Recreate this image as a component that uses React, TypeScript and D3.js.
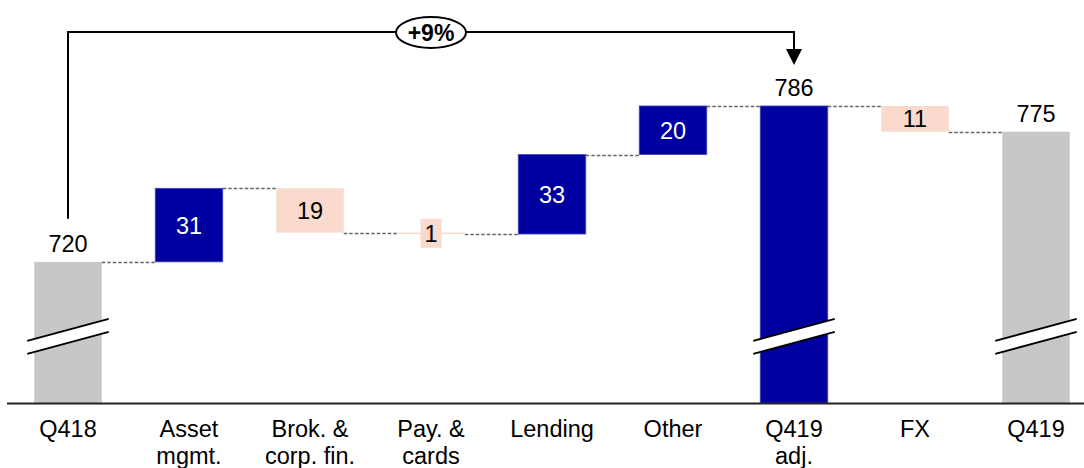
import React from "react";
import * as d3 from "d3";

// ---- data ----
const categoryLines: string[][] = [
  ["Q418"],
  ["Asset", "mgmt."],
  ["Brok. &", "corp. fin."],
  ["Pay. &", "cards"],
  ["Lending"],
  ["Other"],
  ["Q419", "adj."],
  ["FX"],
  ["Q419"],
];
const categories = categoryLines.map((l) => l.join(" "));
const kinds = ["total", "delta", "delta", "delta", "delta", "delta", "subtotal", "delta", "total"];
const values = [720.3, 30.9, -18.6, -0.6, 33.4, 20.4, 785.8, -10.8, 775.0];
const axisMin = 661;
const axisMax = 786;
const breakValue = 689;
const growthFrom = "Q418";
const growthTo = "Q419 adj.";
const growthLabel = "+9%";

const W = 1084;
const H = 468;
const FONT = "'Liberation Sans', Arial, Helvetica, sans-serif";
const BLUE = "#0000A0";
const GRAY = "#C8C7C8";
const PINK = "#F9DACC";

export default function App() {
  const x = d3
    .scaleBand<string>()
    .domain(categories)
    .range([7.5, 7.5 + 121 * categories.length])
    .paddingInner(0.442)
    .paddingOuter(0.221);
  const y = d3.scaleLinear().domain([axisMin, axisMax]).range([403, 105.5]);

  let running = 0;
  const bars = values.map((v, i) => {
    let lo: number, hi: number, end: number;
    if (kinds[i] === "delta") {
      lo = Math.min(running, running + v);
      hi = Math.max(running, running + v);
      end = running + v;
    } else {
      lo = axisMin;
      hi = v;
      end = v;
    }
    running = end;
    const fill =
      kinds[i] === "total" ? GRAY : kinds[i] === "subtotal" ? BLUE : v >= 0 ? BLUE : PINK;
    return { cat: categories[i], v, lo, hi, end, kind: kinds[i], fill, i };
  });

  const bw = x.bandwidth();
  const fs = 23.5;

  const fromX = (x(growthFrom) as number) + bw / 2;
  const toX = (x(growthTo) as number) + bw / 2;
  const fromBar = bars.find((b) => b.cat === growthFrom)!;
  const toBar = bars.find((b) => b.cat === growthTo)!;
  const lineY = 32;
  const fromBottom = y(fromBar.hi) - 43;
  const arrowTip = y(toBar.hi) - 41;

  return (
    <svg
      width={W}
      height={H}
      style={{ position: "absolute", left: 0, top: 0, background: "#fff" }}
      fontFamily={FONT}
    >
      {/* connectors */}
      {bars.slice(0, -1).map((b, i) => {
        const x1 = (x(b.cat) as number) + bw;
        const x2 = x(bars[i + 1].cat) as number;
        const yy = Math.round(y(b.end)) + 0.5;
        return (
          <line
            key={"c" + i}
            x1={x1}
            x2={x2}
            y1={yy}
            y2={yy}
            stroke="#666"
            strokeWidth={1.3}
            strokeDasharray="3.5,2"
          />
        );
      })}

      {/* bars */}
      {bars.map((b) => {
        const x0 = x(b.cat) as number;
        const top = y(b.hi);
        const bot = y(b.lo);
        return (
          <rect
            key={"b" + b.i}
            x={x0}
            y={top}
            width={bw}
            height={Math.max(1.5, bot - top)}
            fill={b.fill}
            stroke={b.fill === BLUE ? "#4646c4" : "none"}
            strokeWidth={b.fill === BLUE ? 0.8 : 0}
          />
        );
      })}

      {/* axis breaks */}
      {bars
        .filter((b) => b.kind !== "delta")
        .map((b) => {
          const xl = (x(b.cat) as number) - 7;
          const xr = (x(b.cat) as number) + bw + 7;
          const yc = y(breakValue);
          const half = 11;
          const gap = 6.5;
          const pts = [
            [xl, yc + half - gap],
            [xr, yc - half - gap],
            [xr, yc - half + gap],
            [xl, yc + half + gap],
          ];
          return (
            <g key={"br" + b.i}>
              <polygon points={pts.map((p) => p.join(",")).join(" ")} fill="#fff" />
              <line x1={pts[0][0]} y1={pts[0][1]} x2={pts[1][0]} y2={pts[1][1]} stroke="#000" strokeWidth={2} />
              <line x1={pts[3][0]} y1={pts[3][1]} x2={pts[2][0]} y2={pts[2][1]} stroke="#000" strokeWidth={2} />
            </g>
          );
        })}

      {/* value labels */}
      {bars.map((b) => {
        const cx = (x(b.cat) as number) + bw / 2;
        const label = String(Math.round(Math.abs(b.v)));
        if (b.kind !== "delta") {
          return (
            <text key={"l" + b.i} x={cx} y={y(b.hi) - 9.5} textAnchor="middle" fontSize={fs} fill="#000">
              {label}
            </text>
          );
        }
        const top = y(b.hi);
        const bot = y(b.lo);
        const cy = (top + bot) / 2;
        const small = bot - top < 10;
        return (
          <g key={"l" + b.i}>
            {small && <rect x={cx - 10.5} y={cy - 14.5} width={21} height={29} fill={b.fill} />}
            <text
              x={cx}
              y={cy}
              dy="0.36em"
              textAnchor="middle"
              fontSize={fs}
              fill={b.fill === BLUE ? "#fff" : "#000"}
            >
              {label}
            </text>
          </g>
        );
      })}

      {/* x axis */}
      <line x1={7} x2={W} y1={403.5} y2={403.5} stroke="#222" strokeWidth={2} />
      {categoryLines.map((lines, i) => {
        const cx = (x(categories[i]) as number) + bw / 2;
        return (
          <text key={"x" + i} x={cx} y={437} textAnchor="middle" fontSize={fs} fill="#000">
            {lines.map((t, j) => (
              <tspan key={j} x={cx} dy={j === 0 ? 0 : 27}>
                {t}
              </tspan>
            ))}
          </text>
        );
      })}

      {/* growth arrow */}
      <path
        d={`M${fromX},${fromBottom} V${lineY} H${toX} V${arrowTip - 15}`}
        fill="none"
        stroke="#000"
        strokeWidth={2}
      />
      <polygon
        points={`${toX - 8},${arrowTip - 16} ${toX + 8},${arrowTip - 16} ${toX},${arrowTip}`}
        fill="#000"
      />
      <ellipse cx={(fromX + toX) / 2} cy={lineY + 0.5} rx={35} ry={15.5} fill="#fff" stroke="#000" strokeWidth={2} />
      <text
        x={(fromX + toX) / 2}
        y={lineY + 0.5}
        dy="0.36em"
        textAnchor="middle"
        fontSize={23}
        fontWeight="bold"
        fill="#000"
      >
        {growthLabel}
      </text>
    </svg>
  );
}
